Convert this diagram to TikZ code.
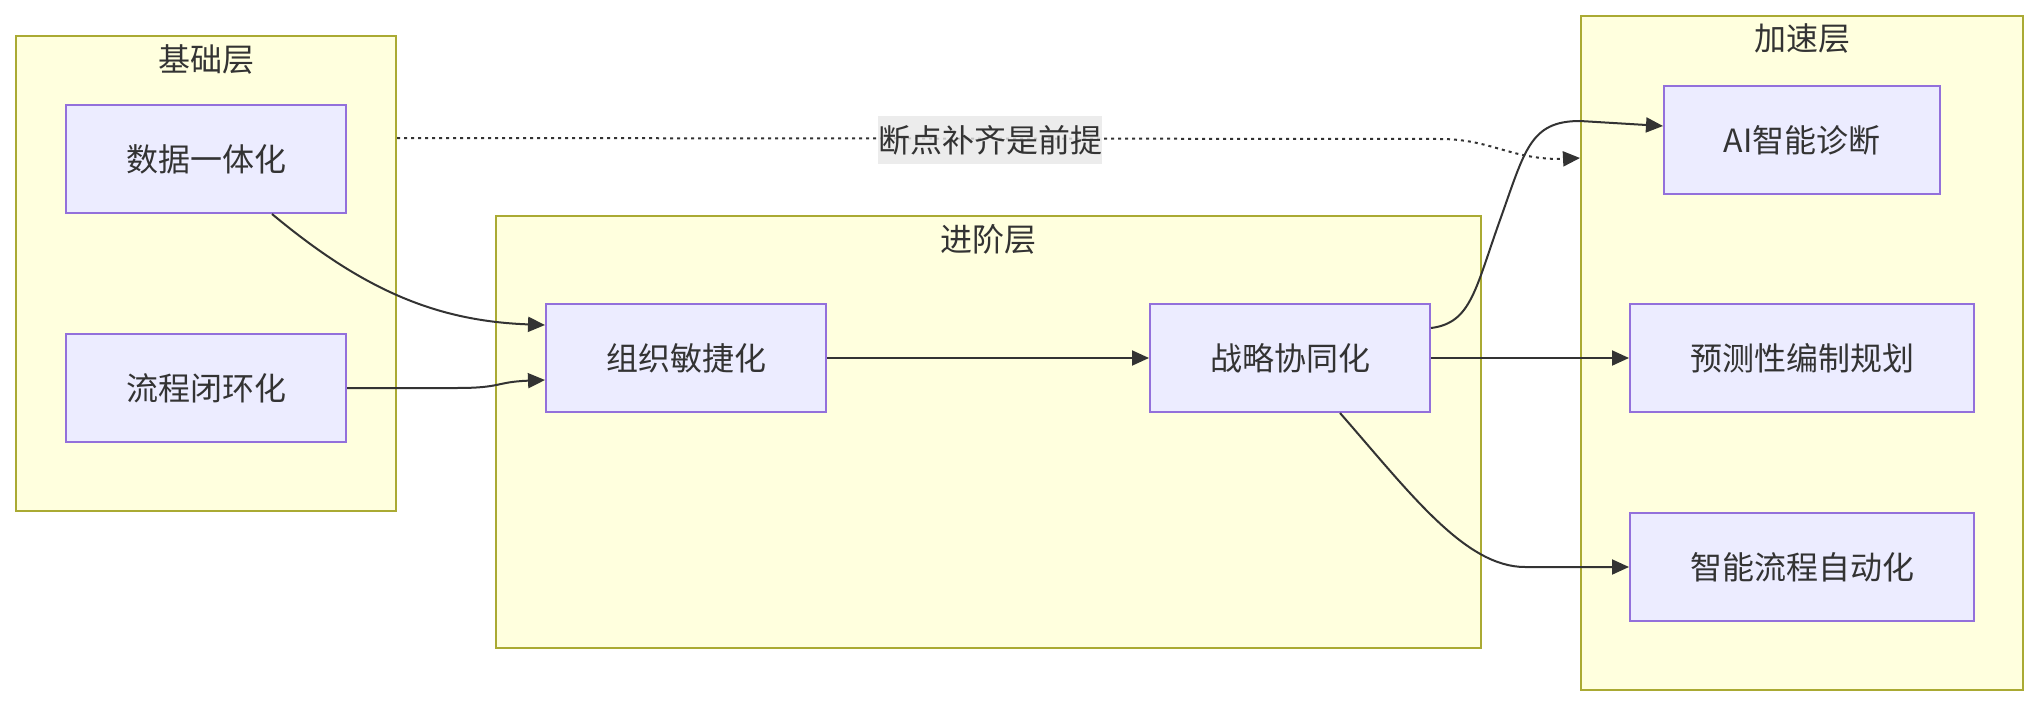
\documentclass[tikz,border=0pt]{standalone}
\usepackage{fontspec}
\setmainfont{Noto Sans CJK SC}
\usetikzlibrary{arrows.meta}
\definecolor{clfill}{HTML}{FFFFDE}
\definecolor{cldraw}{HTML}{AAAA33}
\definecolor{ndfill}{HTML}{ECECFF}
\definecolor{nddraw}{HTML}{9370DB}
\definecolor{txt}{HTML}{333333}
\definecolor{lblbg}{HTML}{E8E8E8}
\begin{document}
\begin{tikzpicture}[x=1pt,y=-1pt,font=\fontsize{32}{38}\selectfont,text=txt,
  cluster/.style={draw=cldraw,fill=clfill,line width=2pt,rectangle,inner sep=0pt},
  box/.style={draw=nddraw,fill=ndfill,line width=2pt,rectangle,minimum height=108pt,inner sep=0pt},
  ttl/.style={inner sep=0pt},
  arr/.style={draw=txt,line width=2pt,-{Triangle[length=17pt,width=15pt]}},
  dotarr/.style={arr,dash pattern=on 3pt off 4pt}]
\useasboundingbox[fill=white] (0,0) rectangle (2040,706);
% clusters
\node[cluster,minimum width=380pt,minimum height=475pt] (c1) at (206,273.5) {};
\node[cluster,minimum width=985pt,minimum height=432pt] (c2) at (988.5,432) {};
\node[cluster,minimum width=442pt,minimum height=674pt] (c3) at (1802,353) {};
\node[ttl] (t1) at ([yshift=-24pt]c1.north) {基础层};
\node[ttl] (t2) at ([yshift=-24pt]c2.north) {进阶层};
\node[ttl] (t3) at ([yshift=-24pt]c3.north) {加速层};
% nodes
\node[box,minimum width=280pt] (d1) at (206,159) {数据一体化};
\node[box,minimum width=280pt] (d2) at (206,388) {流程闭环化};
\node[box,minimum width=280pt] (o) at (686,358) {组织敏捷化};
\node[box,minimum width=280pt] (s) at (1290,358) {战略协同化};
\node[box,minimum width=276pt] (ai) at (1802,140) {AI智能诊断};
\node[box,minimum width=344pt] (p) at (1802,358) {预测性编制规划};
\node[box,minimum width=344pt] (a) at (1802,567) {智能流程自动化};
% edges
\draw[arr] ([xshift=66pt]d1.south) .. controls +(90,75) and +(-110,-4) .. ([yshift=33pt]o.west);
\draw[arr] (d2.east) -- ++(110,0) .. controls +(45,0) and +(-50,2) .. ([yshift=-22pt]o.west);
\draw[arr] (o.east) -- (s.west);
\draw[arr] ([yshift=30pt]s.east) .. controls +(40,-5) and +(-25,70) .. (1500,220)
  .. controls +(25,-70) and +(-50,0) .. (1580,121) -- ([yshift=14pt]ai.west);
\draw[arr] (s.east) -- (p.west);
\draw[arr] ([xshift=50pt]s.south) .. controls +(70,80) and +(-60,0) .. (1525,567) -- (a.west);
\draw[dotarr] ([yshift=-103pt]c1.north east) -- (1440,139)
  .. controls (1490,139) and (1510,159) .. (1560,159) -- ([yshift=-143pt]c3.north west);
\node[fill=lblbg,fill opacity=0.8,text opacity=1,inner xsep=0pt,inner ysep=0pt,minimum height=48pt] (lbl) at (990,140) {断点补齐是前提};
\end{tikzpicture}
\end{document}
